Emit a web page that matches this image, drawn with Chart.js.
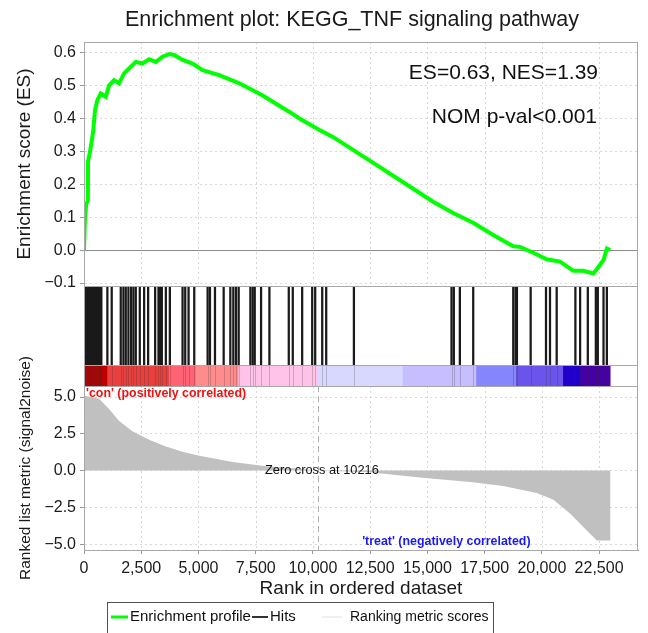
<!DOCTYPE html>
<html><head><meta charset="utf-8">
<script src="https://cdn.jsdelivr.net/npm/chart.js@4.4.1/dist/chart.umd.min.js"></script>
<style>html,body{margin:0;padding:0;background:#fff;}canvas{display:block;}</style>
</head><body>
<canvas id="c" width="648" height="633"></canvas>
<script>
// ---- data ----
const esRank  = [0,44,100,170,175,240,335,400,480,585,730,950,1094,1313,1532,1751,1970,2262,2553,2846,3139,3430,3721,3940,4305,4742,5180,5910,6786,7806,8975,9413,10288,10870,12330,13790,15250,16124,17000,17875,18751,19044,19627,20210,20795,21378,21800,22253,22472,22693,22839,22985];
const esScore = [0,0.10,0.14,0.15,0.27,0.29,0.33,0.36,0.425,0.456,0.476,0.466,0.50,0.517,0.507,0.537,0.552,0.572,0.567,0.58,0.572,0.588,0.596,0.593,0.578,0.567,0.547,0.532,0.507,0.47,0.42,0.40,0.365,0.344,0.279,0.213,0.147,0.113,0.083,0.046,0.012,0.01,-0.008,-0.028,-0.035,-0.063,-0.063,-0.071,-0.051,-0.03,0.005,0.0];

const metricRank  = [0,657,1094,1532,2116,2846,3575,4305,5035,6494,7955,9120,10216,12477,14666,16855,18313,19773,20503,21233,21963,22401,23000];
const metricValue = [5.1,4.89,4.19,3.37,2.67,2.09,1.63,1.28,1.0,0.58,0.30,0.16,0.0,-0.12,-0.47,-0.77,-1.05,-1.52,-1.98,-2.91,-4.08,-4.75,-4.75];

const hitRank = [0,40,80,120,160,200,240,280,320,360,400,440,480,520,560,600,640,680,700,
  758,1021,1211,1605,1722,1824,1941,2058,2160,2262,2437,2627,2802,3108,3254,3327,3400,3575,3750,
  4305,4422,4568,4816,5400,5502,5721,6101,6392,6523,6640,6757,7268,7370,7458,7735,8099,8945,9120,
  9530,9968,10099,10406,10580,11790,16054,16155,16418,17002,18751,18853,18912,19511,20181,20356,
  20648,21465,21671,22008,22358,22445,22693,22839];

const barStart = [0,1021,3721,4890,6757,10216,13937,17148,18900,20940,21700];
const barEnd   = [1021,3721,4890,6757,10216,13937,17148,18900,20940,21700,22985];
const barColors = ['#c00000','#e8403f','#ff6275','#ff8c8c','#ffc2e8','#d8d8ff','#c6befe','#8686fc','#6a54ec','#2200cc','#4600a6'];

const esTicks = [0.6,0.5,0.4,0.3,0.2,0.1,0.0,-0.1];
const metricTicks = [5,2.5,0,-2.5,-5];
const xTicks = [0,2500,5000,7500,10000,12500,15000,17500,20000,22500];
const zeroCross = 10216;

// ---- chart ----
const FONT = "'Liberation Sans', Arial, Helvetica, sans-serif";
Chart.defaults.font.family = FONT;
Chart.defaults.color = '#1a1a1a';
const minus = v => v.replace('-', '\u2212');
const fixW = s => { s.width = 84; };

const deco = {
  id: 'deco',
  beforeDatasetsDraw(chart) {
    const {ctx, chartArea: ca, scales} = chart;
    const x = scales.x, es = scales.yES, m = scales.yM;
    ctx.save();
    ctx.strokeStyle = '#d6d6d6'; ctx.lineWidth = 1; ctx.setLineDash([2, 3]);
    xTicks.forEach(v => {
      if (v === 0) return;
      const px = Math.round(x.getPixelForValue(v)) + 0.5;
      [[es.top, es.bottom], [m.top, m.bottom]].forEach(([t, b]) => {
        ctx.beginPath(); ctx.moveTo(px, t); ctx.lineTo(px, b); ctx.stroke();
      });
    });
    ctx.setLineDash([]);
    ctx.strokeStyle = '#8c8c8c';
    const zy = Math.round(es.getPixelForValue(0)) + 0.5;
    ctx.beginPath(); ctx.moveTo(ca.left, zy); ctx.lineTo(ca.right, zy); ctx.stroke();
    ctx.strokeStyle = '#b0b0b0'; ctx.setLineDash([6, 4]);
    const zx = Math.round(x.getPixelForValue(zeroCross)) + 0.5;
    ctx.beginPath(); ctx.moveTo(zx, m.top); ctx.lineTo(zx, m.bottom); ctx.stroke();
    ctx.restore();
  },
  afterDatasetsDraw(chart) {
    const {ctx, chartArea: ca, scales} = chart;
    const x = scales.x, es = scales.yES, h = scales.yHit, b = scales.yBar, m = scales.yM;
    ctx.save();
    // faint hit marks continuing through the colour bar
    ctx.strokeStyle = 'rgba(40,40,40,0.22)'; ctx.lineWidth = 1;
    hitRank.forEach(r => {
      const px = Math.round(x.getPixelForValue(r)) + 0.5;
      ctx.beginPath(); ctx.moveTo(px, b.top); ctx.lineTo(px, b.bottom); ctx.stroke();
    });
    ctx.strokeStyle = '#a8a8a8'; ctx.lineWidth = 1;
    [h.top, b.top, m.top].forEach(y => {
      const yy = Math.round(y) + 0.5;
      ctx.beginPath(); ctx.moveTo(ca.left, yy); ctx.lineTo(ca.right, yy); ctx.stroke();
    });
    ctx.strokeRect(Math.round(ca.left) + 0.5, Math.round(ca.top) + 0.5, Math.round(ca.right - ca.left) - 1, Math.round(ca.bottom - ca.top));
    // title
    ctx.fillStyle = '#1a1a1a';
    ctx.font = '21.5px ' + FONT;
    ctx.textAlign = 'center'; ctx.textBaseline = 'middle';
    ctx.fillText('Enrichment plot: KEGG_TNF signaling pathway', 352, 20);
    // annotations
    ctx.fillStyle = '#111';
    ctx.font = '21px ' + FONT;
    ctx.textAlign = 'right';
    ctx.fillText('ES=0.63, NES=1.39', ca.right - 40, 73);
    ctx.fillText('NOM p-val<0.001', ca.right - 41, 117);
    ctx.textAlign = 'left';
    ctx.font = 'bold 12.4px ' + FONT;
    ctx.fillStyle = '#ee1111';
    ctx.fillText("'con' (positively correlated)", ca.left + 2, m.top + 8);
    ctx.fillStyle = '#1a1aee';
    ctx.fillText("'treat' (negatively correlated)", x.getPixelForValue(12150), m.getPixelForValue(-4.8));
    ctx.fillStyle = '#111';
    ctx.font = '12.8px ' + FONT;
    ctx.textAlign = 'center';
    ctx.fillText('Zero cross at ' + zeroCross, x.getPixelForValue(zeroCross) + 4, m.getPixelForValue(0));
    ctx.restore();
  },
  afterDraw(chart) {
    const ctx = chart.ctx;
    ctx.save();
    ctx.strokeStyle = '#505050'; ctx.lineWidth = 1;
    ctx.strokeRect(107.5, 602.5, 386, 40);
    ctx.font = '15px ' + FONT; ctx.textBaseline = 'middle'; ctx.textAlign = 'left';
    ctx.fillStyle = '#111';
    const ly = 617;
    const items = [
      {label: chart.data.datasets[0].label, color: '#00ff00', w: 3, x0: 111, len: 17},
      {label: chart.data.datasets[1].label, color: '#333', w: 2, x0: 252, len: 16},
      {label: chart.data.datasets[3].label, color: '#f0f0f0', w: 2, x0: 322, len: 20}
    ];
    items.forEach(it => {
      ctx.strokeStyle = it.color; ctx.lineWidth = it.w;
      ctx.beginPath(); ctx.moveTo(it.x0, ly); ctx.lineTo(it.x0 + it.len, ly); ctx.stroke();
    });
    ctx.fillText(items[0].label, 130, ly);
    ctx.fillText(items[1].label, 270, ly);
    ctx.font = '14px ' + FONT;
    ctx.fillText(items[2].label, 350, ly);
    ctx.restore();
  }
};

new Chart(document.getElementById('c'), {
  type: 'line',
  data: {
    datasets: [
      { type: 'line', label: 'Enrichment profile', xAxisID: 'x', yAxisID: 'yES',
        data: esRank.map((r, i) => ({x: r, y: esScore[i]})),
        borderColor: '#00ff00', backgroundColor: '#00ff00', borderWidth: 4, pointRadius: 0, tension: 0, fill: false },
      { type: 'bar', label: 'Hits', xAxisID: 'x', yAxisID: 'yHit',
        data: hitRank.map(r => ({x: r, y: [0, 1]})),
        backgroundColor: '#1a1a1a', barThickness: 1.6, grouped: false },
      { type: 'bar', label: 'Ranked list colour bar', indexAxis: 'y', xAxisID: 'x', yAxisID: 'yBar',
        data: barStart.map((s, i) => ({x: [s, barEnd[i]], y: 'c'})),
        backgroundColor: barColors, barPercentage: 1, categoryPercentage: 1, grouped: false },
      { type: 'line', label: 'Ranking metric scores', xAxisID: 'x', yAxisID: 'yM',
        data: metricRank.map((r, i) => ({x: r, y: metricValue[i]})),
        borderColor: '#c0c0c0', backgroundColor: '#c0c0c0', borderWidth: 0, pointRadius: 0, tension: 0, fill: 'origin' }
    ]
  },
  options: {
    responsive: false, animation: false, devicePixelRatio: 1,
    layout: { padding: { left: 0, right: 10, top: 42, bottom: 33 } },
    plugins: { legend: { display: false }, tooltip: { enabled: false }, title: { display: false } },
    scales: {
      x: { type: 'linear', position: 'bottom', min: 0, max: 24200, offset: false,
        afterBuildTicks: s => { s.ticks = xTicks.map(v => ({value: v})); },
        ticks: { font: { size: 16 }, padding: 5, maxRotation: 0, autoSkip: false,
          callback: v => v.toLocaleString('en-US') },
        grid: { drawOnChartArea: false, drawTicks: true, tickLength: 4, color: '#999', offset: false },
        border: { color: '#999' },
        title: { display: true, text: 'Rank in ordered dataset', font: { size: 19 }, padding: { top: 2, bottom: 0 } },
        afterFit: s => { s.height = 50; } },
      yES: { type: 'linear', position: 'left', stack: 'gsea', stackWeight: 244, weight: 4,
        min: -0.109, max: 0.6325,
        afterBuildTicks: s => { s.ticks = esTicks.map(v => ({value: v})); },
        ticks: { font: { size: 16 }, padding: 4, autoSkip: false, callback: v => minus(v.toFixed(1)) },
        grid: { color: '#dadada', tickLength: 4, tickColor: '#999' },
        border: { color: '#999', dash: [2, 3] },
        title: { display: true, text: 'Enrichment score (ES)', font: { size: 19 }, padding: { top: 13, bottom: 0 } },
        afterFit: fixW },
      yHit: { type: 'linear', position: 'left', stack: 'gsea', stackWeight: 79, weight: 3,
        min: 0, max: 1, ticks: { display: false }, grid: { display: false }, border: { color: '#999' },
        afterFit: fixW },
      yBar: { type: 'category', position: 'left', stack: 'gsea', stackWeight: 21, weight: 2,
        labels: ['c'], offset: true, ticks: { display: false }, grid: { display: false }, border: { color: '#999' },
        afterFit: fixW },
      yM: { type: 'linear', position: 'left', stack: 'gsea', stackWeight: 164, weight: 1,
        min: -5.4, max: 5.75,
        afterBuildTicks: s => { s.ticks = metricTicks.map(v => ({value: v})); },
        ticks: { font: { size: 16 }, padding: 4, autoSkip: false, callback: v => minus(v.toFixed(1)) },
        grid: { color: '#dadada', tickLength: 4, tickColor: '#999' },
        border: { color: '#999', dash: [2, 3] },
        title: { display: true, text: 'Ranked list metric (signal2noise)', font: { size: 15.5 }, padding: { top: 16, bottom: 0 } },
        afterFit: fixW }
    }
  },
  plugins: [deco]
});
</script>
</body></html>
